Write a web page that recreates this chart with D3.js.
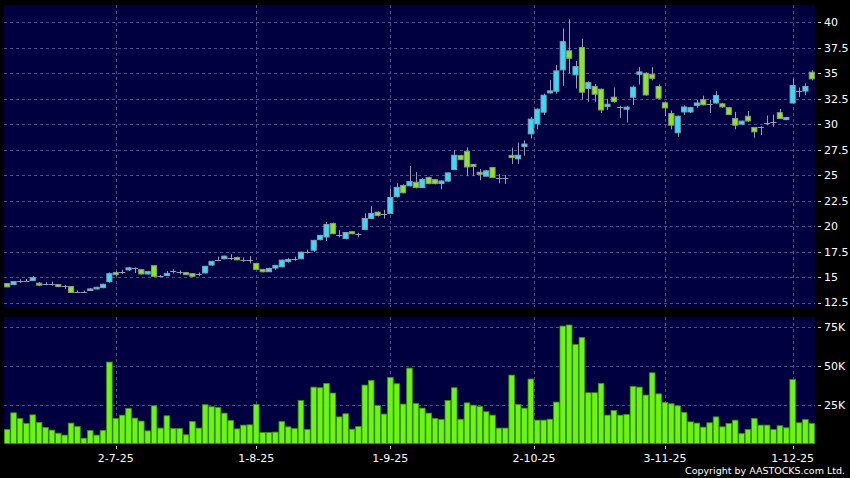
<!DOCTYPE html>
<html>
<head>
<meta charset="utf-8">
<script src="https://cdn.jsdelivr.net/npm/d3@7"></script>
<style>
  body { margin: 0; background: #000; }
  svg { display: block; }
</style>
</head>
<body>
<svg width="850" height="478"></svg>
<script>
// daily bars, oldest first
var open  = [14.36,14.26,14.6,14.65,14.65,14.4,14.36,14.36,14.26,14.1,14.06,13.57,13.54,13.67,13.83,13.96,14.55,15.43,15.5,15.7,
  15.88,15.72,15.3,16.11,15.14,15.14,15.59,15.5,15.43,15.33,15.3,15.4,16.18,16.7,16.79,16.88,16.92,16.72,16.69,16.33,
  15.75,15.52,15.88,16.0,16.53,16.8,16.79,17.44,17.63,18.67,18.93,20.26,19.15,18.77,19.45,19.25,19.67,20.75,21.37,21.15,
  21.24,22.88,23.99,23.95,24.3,23.78,24.76,24.56,24.18,24.42,25.55,26.92,27.34,26.06,25.28,24.9,25.74,24.75,24.75,26.94,
  26.6,27.8,29.05,30.03,31.18,33.07,33.24,35.33,37.2,34.84,37.52,33.5,33.7,33.43,31.73,32.65,31.73,31.47,32.65,34.9,
  35.0,34.9,33.7,32.1,31.04,29.16,31.2,31.2,31.85,32.4,31.95,32.08,32.0,31.62,30.55,30.0,30.78,29.68,29.74,30.13,
  30.2,31.13,30.45,32.08,33.25,33.25,35.1];
var high  = [14.42,14.6,14.78,14.8,15.1,14.5,14.5,14.56,14.3,14.22,14.1,13.7,13.66,13.9,14.05,14.35,15.45,15.6,15.72,16.0,
  15.95,15.75,15.6,16.15,15.2,15.6,15.78,15.65,15.5,15.38,15.45,16.1,16.6,17.0,17.1,17.24,17.0,16.92,17.05,16.4,
  15.8,15.9,16.2,16.7,16.88,17.0,17.5,17.7,18.65,19.15,20.4,20.35,19.6,19.4,19.5,19.35,21.24,21.96,21.45,21.6,
  23.7,24.2,24.1,25.9,25.3,24.7,24.85,24.6,24.5,25.25,27.46,27.0,27.72,26.1,25.6,25.5,25.8,25.1,25.0,27.7,
  28.2,28.4,30.7,31.55,33.0,34.35,35.8,39.4,40.3,36.2,38.4,34.2,33.95,33.5,32.5,33.6,31.8,31.8,33.8,35.6,
  35.1,35.6,33.9,32.2,31.35,30.85,31.85,31.7,32.4,32.8,32.4,33.25,32.1,31.7,31.2,30.35,31.3,29.7,29.8,30.85,
  30.95,31.5,30.7,34.45,33.6,34.0,35.3];
var low   = [14.0,14.2,14.42,14.5,14.6,14.1,14.2,14.15,14.0,13.84,13.45,13.44,13.45,13.62,13.8,13.9,14.45,15.1,15.3,15.6,
  15.4,15.25,15.25,15.0,15.0,15.1,15.35,15.25,15.2,15.05,15.07,15.35,16.1,16.55,16.75,16.66,16.65,16.5,16.33,15.7,
  15.45,15.5,15.7,15.95,16.4,16.6,16.75,17.3,17.45,18.6,18.54,19.2,18.9,18.7,19.2,18.9,19.6,20.7,20.95,20.75,
  21.2,22.8,23.2,23.9,23.7,23.75,24.1,24.1,23.6,24.35,25.5,26.5,24.9,24.9,24.5,24.85,24.7,24.2,24.15,26.1,
  26.1,26.9,28.6,29.5,30.9,33.0,33.0,33.76,35.0,33.5,32.4,32.2,32.2,31.1,31.4,32.1,30.6,30.16,31.9,33.9,
  32.8,34.3,32.45,30.8,29.5,28.77,30.9,31.1,31.6,31.85,31.1,32.0,31.6,30.9,29.5,29.9,30.2,28.67,28.95,29.9,
  29.75,30.5,30.4,32.0,32.65,32.85,34.3];
var close = [14.03,14.55,14.6,14.65,14.94,14.2,14.36,14.36,14.06,14.1,13.48,13.57,13.54,13.83,13.99,14.29,15.33,15.23,15.5,15.9,
  15.88,15.3,15.53,15.07,15.14,15.36,15.59,15.5,15.23,15.07,15.3,16.05,16.54,16.7,17.05,16.88,16.69,16.72,16.69,15.75,
  15.52,15.84,16.14,16.66,16.72,16.8,17.44,17.44,18.6,19.09,20.16,19.25,19.15,19.37,19.25,19.25,20.75,21.24,21.05,21.15,
  22.8,23.8,23.27,24.37,23.78,24.58,24.17,24.17,24.42,25.22,26.95,26.52,25.8,25.84,25.08,25.42,24.76,24.75,24.75,26.72,
  26.95,28.05,30.5,31.47,32.84,33.27,35.23,38.1,36.47,35.65,33.14,34.08,32.94,31.4,31.96,32.22,31.73,31.67,33.63,35.13,
  32.87,34.5,32.55,31.6,29.9,30.78,31.69,31.62,32.08,31.9,31.95,32.82,31.7,30.94,29.9,30.3,30.32,29.25,29.74,30.13,
  30.2,30.55,30.65,33.8,33.25,33.7,34.45];
// volume, thousands of shares
var volume = [9.0,19.7,16.1,12.9,18.4,13.5,10.3,8.6,6.6,5.4,13.1,10.9,3.4,8.4,5.4,8.4,52.3,16.1,18.2,22.5,
  16.3,14.4,8.1,24.2,9.9,17.8,9.6,9.6,5.6,14.1,9.9,24.9,23.6,23.1,19.5,14.8,9.4,11.8,12.0,25.1,
  7.1,7.1,7.3,14.1,10.7,9.6,27.6,9.0,36.2,35.8,38.6,32.4,17.1,19.1,9.2,10.9,37.5,40.5,24.4,18.9,
  42.4,38.4,25.3,48.4,25.7,22.7,19.5,16.1,15.4,27.6,35.8,15.6,26.1,24.6,23.8,20.4,18.2,9.9,9.9,43.9,
  25.1,22.7,41.4,15.0,15.0,15.6,26.6,75.4,76.1,63.6,68.1,32.6,32.6,38.6,18.2,21.2,18.2,18.6,36.6,36.2,
  31.1,45.4,31.9,26.4,25.5,24.2,19.9,13.9,13.1,10.5,13.3,17.1,10.7,12.9,15.0,6.4,9.0,16.1,11.8,11.8,
  9.0,11.4,10.1,41.1,13.3,15.4,12.9];

var dateTicks  = [17, 39, 60, 82.5, 103, 123];
var dateLabels = ["2-7-25", "1-8-25", "1-9-25", "2-10-25", "3-11-25", "1-12-25"];
var priceTicks = [12.5, 15, 17.5, 20, 22.5, 25, 27.5, 30, 32.5, 35, 37.5, 40];
var volTicks   = [25, 50, 75];

var svg = d3.select("svg"),
    width = +svg.attr("width"),
    height = +svg.attr("height");

var left = 4, right = 815,
    pTop = 5, pBot = 307,
    vTop = 317, vBot = 443.5;

var n = close.length;
var x = d3.scaleLinear().domain([-0.5, n - 0.5]).range([left, right]);
var step = x(1) - x(0);
var yP = d3.scaleLinear().domain([12.5, 40]).range([302.5, 22.3]);
var yV = d3.scaleLinear().domain([0, 75]).range([vBot, 326.7]);

var upCol = "#30def8", downCol = "#86ea1e", grid = "#4e4e90";

svg.append("rect").attr("width", width).attr("height", height).attr("fill", "#000");
svg.append("rect").attr("x", left).attr("y", pTop).attr("width", right - left).attr("height", pBot - pTop).attr("fill", "#000040");
svg.append("rect").attr("x", left).attr("y", vTop).attr("width", right - left).attr("height", vBot - vTop).attr("fill", "#000040");

// grid
var g = svg.append("g")
    .attr("stroke", grid)
    .attr("stroke-dasharray", "3,3")
    .attr("shape-rendering", "crispEdges");

g.selectAll(".hp").data(priceTicks).enter().append("line")
    .attr("x1", left).attr("x2", right)
    .attr("y1", function(d) { return Math.round(yP(d)) + 0.5; })
    .attr("y2", function(d) { return Math.round(yP(d)) + 0.5; });

g.selectAll(".hv").data(volTicks).enter().append("line")
    .attr("x1", left).attr("x2", right)
    .attr("y1", function(d) { return Math.round(yV(d)) + 0.5; })
    .attr("y2", function(d) { return Math.round(yV(d)) + 0.5; });

g.selectAll(".vp").data(dateTicks).enter().append("line")
    .attr("x1", function(d) { return Math.round(x(d)) + 0.5; })
    .attr("x2", function(d) { return Math.round(x(d)) + 0.5; })
    .attr("y1", pTop).attr("y2", pBot);

g.selectAll(".vv").data(dateTicks).enter().append("line")
    .attr("x1", function(d) { return Math.round(x(d)) + 0.5; })
    .attr("x2", function(d) { return Math.round(x(d)) + 0.5; })
    .attr("y1", vTop).attr("y2", vBot);

// candles
var bars = d3.range(n).map(function(i) {
  return {i: i, o: open[i], h: high[i], l: low[i], c: close[i], v: volume[i]};
});

var bw = step * 0.8;

var candle = svg.append("g").selectAll("g")
    .data(bars)
    .enter().append("g");

candle.append("line")
    .attr("stroke", "#9a9cb0")
    .attr("x1", function(d) { return Math.round(x(d.i)) + 0.5; })
    .attr("x2", function(d) { return Math.round(x(d.i)) + 0.5; })
    .attr("y1", function(d) { return yP(d.h); })
    .attr("y2", function(d) { return yP(d.l); });

candle.filter(function(d) { return d.o == d.c; }).append("line")
    .attr("stroke", "#9a9cb0")
    .attr("x1", function(d) { return x(d.i) - bw / 2 - 0.5; })
    .attr("x2", function(d) { return x(d.i) + bw / 2 + 0.5; })
    .attr("y1", function(d) { return Math.round(yP(d.c)) + 0.5; })
    .attr("y2", function(d) { return Math.round(yP(d.c)) + 0.5; });

candle.filter(function(d) { return d.o != d.c; }).append("rect")
    .attr("x", function(d) { return x(d.i) - bw / 2; })
    .attr("width", bw)
    .attr("y", function(d) { return yP(Math.max(d.o, d.c)); })
    .attr("height", function(d) { return Math.max(1, Math.abs(yP(d.o) - yP(d.c))); })
    .attr("fill", function(d) { return d.c > d.o ? upCol : downCol; })
    .attr("stroke", function(d) { return d.c > d.o ? "#86a2b4" : "#8e9c7a"; })
    .attr("stroke-width", 1);

// volume
svg.append("g").selectAll("rect")
    .data(bars)
    .enter().append("rect")
      .attr("x", function(d) { return x(d.i) - step * 0.44; })
      .attr("width", step * 0.88)
      .attr("y", function(d) { return yV(d.v); })
      .attr("height", function(d) { return vBot - yV(d.v); })
      .attr("fill", "#6cf514")
      .attr("stroke", "#3b9206")
      .attr("stroke-width", 0.8);

// right axis labels
var txt = svg.append("g")
    .attr("font-family", "DejaVu Sans, Verdana, sans-serif")
    .attr("font-size", 11)
    .attr("fill", "#fff");

txt.selectAll(".pl").data(priceTicks).enter().append("text")
    .attr("x", 824)
    .attr("y", function(d) { return yP(d); })
    .attr("dy", "0.36em")
    .text(function(d) { return d; });

txt.selectAll(".vl").data(volTicks).enter().append("text")
    .attr("x", 824)
    .attr("y", function(d) { return yV(d); })
    .attr("dy", "0.36em")
    .text(function(d) { return d + "K"; });

var dash = svg.append("g").attr("stroke", "#ccc").attr("shape-rendering", "crispEdges");
dash.selectAll(".pd").data(priceTicks).enter().append("line")
    .attr("x1", 818).attr("x2", 821)
    .attr("y1", function(d) { return Math.round(yP(d)) + 0.5; })
    .attr("y2", function(d) { return Math.round(yP(d)) + 0.5; });
dash.selectAll(".vd").data(volTicks).enter().append("line")
    .attr("x1", 818).attr("x2", 821)
    .attr("y1", function(d) { return Math.round(yV(d)) + 0.5; })
    .attr("y2", function(d) { return Math.round(yV(d)) + 0.5; });
dash.selectAll(".xd").data(dateTicks).enter().append("line")
    .attr("x1", function(d) { return Math.round(x(d)) + 0.5; })
    .attr("x2", function(d) { return Math.round(x(d)) + 0.5; })
    .attr("y1", 446).attr("y2", 449);

txt.selectAll(".xl").data(dateTicks).enter().append("text")
    .attr("x", function(d) { return x(d); })
    .attr("y", 462)
    .attr("text-anchor", "middle")
    .text(function(d, i) { return dateLabels[i]; });

txt.append("text")
    .attr("x", 845)
    .attr("y", 474)
    .attr("text-anchor", "end")
    .attr("font-size", 9.5)
    .text("Copyright by AASTOCKS.com Ltd.");
</script>
</body>
</html>
